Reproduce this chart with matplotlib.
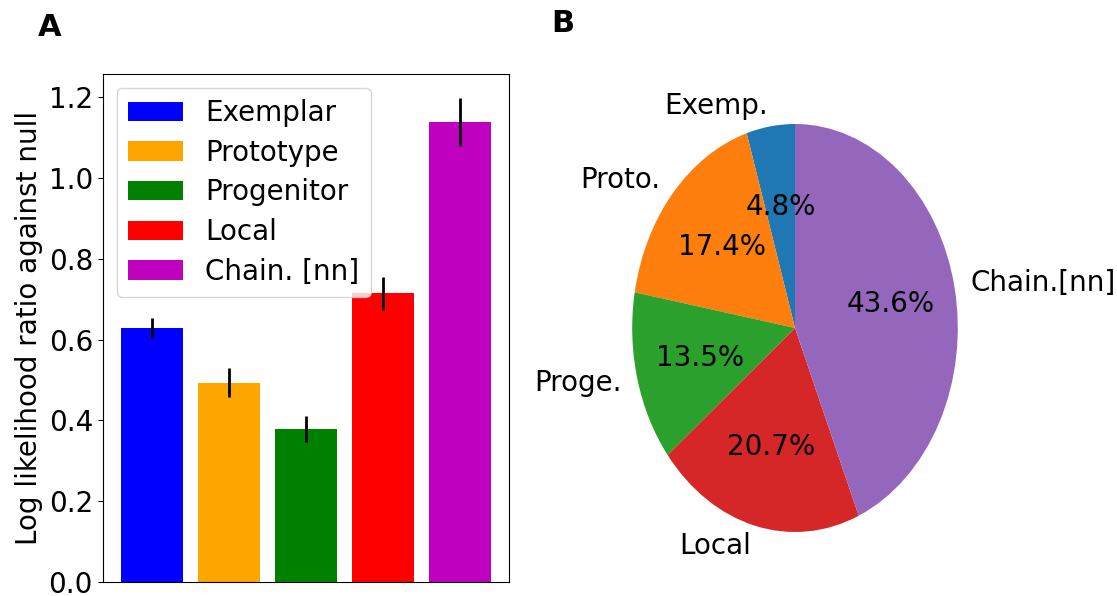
import matplotlib
matplotlib.use('Agg')
import matplotlib.pyplot as plt

# bar panel data
models = ['Exemplar', 'Prototype', 'Progenitor', 'Local', 'Chain. [nn]']
llr = [0.629, 0.493, 0.378, 0.714, 1.138]
llr_err = [0.025, 0.036, 0.032, 0.040, 0.060]
bar_colors = ['b', 'orange', 'g', 'r', 'm']

# pie panel data
pie_labels = ['Exemp.', 'Proto.', 'Proge.', 'Local', 'Chain.[nn]']
pie_share = [4.8, 17.4, 13.5, 20.7, 43.6]

plt.rcParams['font.size'] = 20

fig = plt.figure(figsize=(11.17, 5.96), dpi=100)
ax1 = fig.add_axes([102.7 / 1117, 14 / 596, 406.6 / 1117, 508 / 596])
ax2 = fig.add_axes([591.5 / 1117, 13 / 596, 407 / 1117, 510 / 596])

# bar chart of log likelihood ratios
for i in range(len(models)):
    ax1.bar(i, llr[i], yerr=llr_err[i], color=bar_colors[i],
            label=models[i], error_kw=dict(lw=2))
ax1.set_xticks([])
ax1.set_ylim(0, 1.257)
ax1.set_ylabel('Log likelihood ratio against null')
ax1.legend(loc='upper left', fontsize=20, labelspacing=0.42)

# pie chart of model shares
ax2.pie(pie_share, labels=pie_labels, autopct='%1.1f%%', startangle=90,
        textprops=dict(fontsize=20))
ax2.set_aspect('auto')
ax2.set_xlim(-1.25, 1.25)
ax2.set_ylim(-1.25, 1.25)

fig.text(50 / 1117, 1 - 27 / 596, 'A', fontsize=22, fontweight='bold',
         ha='center', va='center')
fig.text(563 / 1117, 1 - 24 / 596, 'B', fontsize=22, fontweight='bold',
         ha='center', va='center')

fig.savefig('out.png', dpi=100)
